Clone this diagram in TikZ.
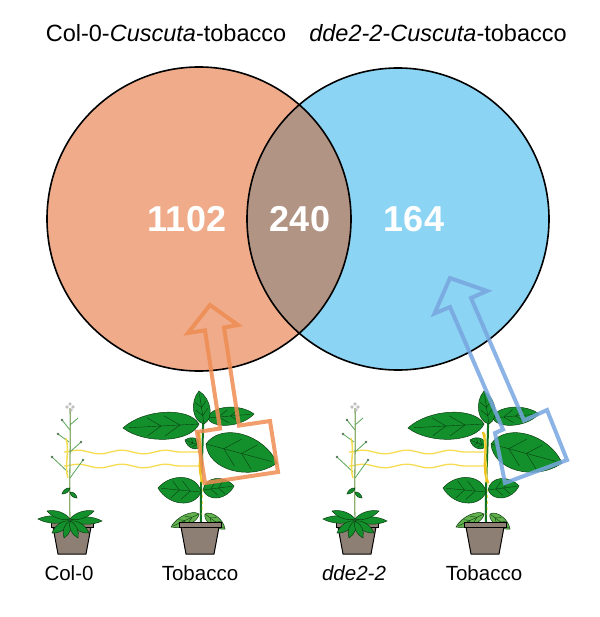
\documentclass[tikz,border=0pt]{standalone}
\usepackage{fontspec}
\setmainfont{Liberation Sans}
\usetikzlibrary{calc,decorations.pathmorphing}
\definecolor{salmonC}{HTML}{F0AC8A}
\definecolor{skyC}{HTML}{8CD4F4}
\definecolor{lensC}{HTML}{B29484}
\definecolor{arrOr}{HTML}{EE8C52}
\definecolor{arrBl}{HTML}{78A6E0}
\definecolor{leafG}{HTML}{13902C}
\definecolor{leafD}{HTML}{0B3D10}
\definecolor{leafL}{HTML}{62B04E}
\definecolor{potC}{HTML}{8E7F75}
\definecolor{cusc}{HTML}{F6DC50}
\definecolor{cuscD}{HTML}{EFC21E}
\definecolor{arabS}{HTML}{8DB070}
\tikzset{
  vennline/.style={draw=black, line width=1.6bp},
  numlab/.style={text=white, font=\fontsize{36bp}{40bp}\selectfont\bfseries, inner sep=0pt},
  titlelab/.style={font=\fontsize{23.5bp}{28bp}\selectfont, anchor=base, inner sep=0pt},
  plantlab/.style={font=\fontsize{20.5bp}{24bp}\selectfont, anchor=base, inner sep=0pt},
  leafsty/.style={fill=leafG, draw=leafD, line width=0.5bp},
  leaflsty/.style={fill=leafL, draw=leafD, line width=0.5bp},
  veinsty/.style={draw=leafD, line width=0.4bp},
  stemsty/.style={draw=leafG!80!black, line width=2bp},
  arabstem/.style={draw=arabS, line width=1.3bp},
  arabbr/.style={draw=gray!70!green, line width=0.8bp},
  potsty/.style={fill=potC, draw=black, line width=1bp},
  cuscsty/.style={draw=cusc, line width=1.3bp, decorate, decoration={snake, amplitude=1.8bp, segment length=44bp}},
  bigarrow/.style={line width=4bp, line join=miter, draw opacity=0.85},
}
\newcommand\leaf[4][leafsty]{%
  \path[#1] #2 .. controls ($#2!0.12!#3!#4!90:#3$) and ($#2!0.72!#3!#4!90:#3$) .. #3
     .. controls ($#2!0.72!#3!#4!-90:#3$) and ($#2!0.12!#3!#4!-90:#3$) .. #2 -- cycle;
  \draw[veinsty] #2 -- ($#2!0.92!#3$);
  \draw[veinsty] ($#2!0.25!#3$) -- ($#2!0.45!#3!0.55*#4!90:#3$);
  \draw[veinsty] ($#2!0.25!#3$) -- ($#2!0.45!#3!0.55*#4!-90:#3$);
  \draw[veinsty] ($#2!0.5!#3$) -- ($#2!0.68!#3!0.5*#4!90:#3$);
  \draw[veinsty] ($#2!0.5!#3$) -- ($#2!0.68!#3!0.5*#4!-90:#3$);
}
\newcommand\smallleaf[3]{%
  \path[leafsty] #1 .. controls ($#1!0.25!#2!#3!90:#2$) and ($#1!0.7!#2!#3!90:#2$) .. #2
     .. controls ($#1!0.7!#2!#3!-90:#2$) and ($#1!0.25!#2!#3!-90:#2$) .. #1 -- cycle;
}
\newcommand\pot[1]{%
  \filldraw[potsty] ({#1-19},527) -- ({#1+19},527) -- ({#1+14},554) -- ({#1-14},554) -- cycle;
  \filldraw[potsty] ({#1-21},522) rectangle ({#1+21},527);
}
\newcommand\tobaccoplant{%
  \draw[stemsty] (201,522) .. controls (200,480) and (204,440) .. (203,398);
  \leaf[leaflsty]{(199,514)}{(171,527)}{7bp}
  \leaf[leaflsty]{(205,514)}{(225,529)}{7bp}
  \leaf{(201,492)}{(158,488)}{17bp}
  \leaf{(203,490)}{(234,486)}{13bp}
  \leaf{(206,444)}{(277,463)}{25bp}
  \leaf{(201,446)}{(185,440)}{7bp}
  \leaf{(199,424)}{(123,428)}{18bp}
  \leaf{(207,418)}{(254,414)}{12bp}
  \leaf{(204,424)}{(199,391)}{11bp}
  \pot{200}
  \draw[cuscD, line width=2.4bp] (198,432) .. controls (204,450) and (196,465) .. (203,483);
  \draw[cusc, line width=1bp] (201,434) .. controls (196,452) and (206,468) .. (200,482);
  \draw[cusc, line width=0.8bp, dash pattern=on 3bp off 3bp] (203,483) -- (202,515);
}
\newcommand\arabplant{%
  \pot{72}
  \draw[arabstem] (70,520) .. controls (69,480) and (71,440) .. (70,408);
  \draw[arabbr] (69,442) -- (58,434);
  \draw[arabbr] (70,452) -- (81,442);
  \draw[arabbr] (68,472) -- (52,457);
  \draw[arabbr] (70,478) -- (83,460);
  \draw[arabbr] (70,430) -- (62,420);
  \draw[arabbr] (70,425) -- (78,418);
  \foreach \p in {(58,434),(81,442),(52,457),(83,460),(62,420)}
    \fill[leafD!70] \p circle[radius=1.3bp];
  \smallleaf{(70,488)}{(62,494)}{2.5bp}
  \smallleaf{(70,492)}{(77,498)}{2.5bp}
  \foreach \p in {(67,407),(70,404),(73,407),(71,410)}
    \filldraw[fill=white, draw=gray, line width=0.4bp] \p circle[radius=1.4bp];
  \smallleaf{(70,520)}{(38,519)}{5bp}
  \smallleaf{(70,520)}{(102,521)}{5bp}
  \smallleaf{(70,519)}{(47,511)}{4.5bp}
  \smallleaf{(70,519)}{(94,511)}{4.5bp}
  \smallleaf{(70,521)}{(52,533)}{5bp}
  \smallleaf{(70,521)}{(89,533)}{5bp}
  \smallleaf{(70,521)}{(64,538)}{4.5bp}
  \smallleaf{(70,521)}{(78,538)}{4.5bp}
  \draw[cusc, line width=1.5bp] (66,438) .. controls (70,452) and (64,465) .. (68,478);
}
\newcommand\scene{%
  \draw[cuscsty] (64,452) -- (200,452);
  \draw[cuscsty] (64,466) -- (200,466);
  \arabplant
  \tobaccoplant
}
\begin{document}
\begin{tikzpicture}[x=1bp, y=-1bp]
\useasboundingbox (0,0) rectangle (600,617);
% Venn
\fill[salmonC] (199,219) circle[radius=152bp];
\fill[skyC] (398,219) circle[radius=151bp];
\begin{scope}
  \clip (199,219) circle[radius=152bp];
  \fill[lensC] (398,219) circle[radius=151bp];
\end{scope}
\draw[vennline] (199,219) circle[radius=152bp];
\draw[vennline] (398,219) circle[radius=151bp];
\node[numlab] (n1) at (187,219) {1102};
\node[numlab] (n2) at (300,219) {240};
\node[numlab] (n3) at (414,219) {164};
\node[titlelab] (t1) at (166,42) {Col-0-\textit{Cuscuta}-tobacco};
\node[titlelab] (t2) at (438,42) {\textit{dde2-2-Cuscuta}-tobacco};
% plants
\scene
\begin{scope}[xshift=285bp]
  \scene
\end{scope}
% arrows
\draw[bigarrow, draw=arrOr] (210,305) -- (238,325) -- (224,327.5) -- (239,425.6) -- (270,421) -- (278,472) -- (205,483) -- (197,432) -- (220,428.5) -- (205,330.4) -- (188,333) -- cycle;
\draw[bigarrow, draw=arrBl] (450,278) -- (487,291) -- (471,298) -- (524,420.5) -- (547,410) -- (567,460) -- (505,483) -- (495,433) -- (503,429.5) -- (450,307) -- (434.5,313.5) -- cycle;
% labels
\node[plantlab] (l1) at (69,580) {Col-0};
\node[plantlab] (l2) at (200,580) {Tobacco};
\node[plantlab] (l3) at (354,580) {\textit{dde2-2}};
\node[plantlab] (l4) at (484,580) {Tobacco};
\end{tikzpicture}
\end{document}
